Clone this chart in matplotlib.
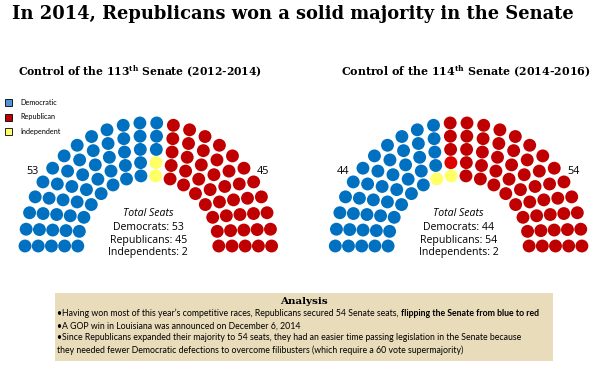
import numpy as np
import matplotlib
matplotlib.use("Agg")
import matplotlib.pyplot as plt
from matplotlib.patches import Rectangle

# =========================
# DATA
# =========================
# seats in each ring of the hemicycle, inner -> outer
ring_seats = [16, 18, 20, 22, 24]

# party of each seat, as runs in left-to-right seat order
runs_113 = [("D", 53), ("I", 2), ("R", 45)]
runs_114 = [("D", 40), ("I", 1), ("D", 4), ("I", 1), ("Rnew", 1), ("R", 53)]

dem_113, rep_113, ind_113 = 53, 45, 2
dem_114, rep_114, ind_114 = 44, 54, 2

titles = ["Control of the 113$^{\\mathrm{th}}$ Senate (2012-2014)",
          "Control of the 114$^{\\mathrm{th}}$ Senate (2014-2016)"]

legend_labels = ["Democratic", "Republican", "Independent"]
legend_colors = ["#4F94D9", "#C00000", "#FFFF66"]

notes = [
    ("\u2022Having won most of this year\u2019s competitive races, Republicans secured 54 Senate seats, ",
     "flipping the Senate from blue to red"),
    ("\u2022A GOP win in Louisiana was announced on December 6, 2014", ""),
    ("\u2022Since Republicans expanded their majority to 54 seats, they had an easier time passing legislation in the Senate because", ""),
    ("they needed fewer Democratic defections to overcome filibusters (which require a 60 vote supermajority)", ""),
]

colors = {"D": "#0070C0", "R": "#C00000", "I": "#FFFF66", "Rnew": "#E00000"}

plt.rcParams["mathtext.fontset"] = "custom"
plt.rcParams["mathtext.rm"] = "DejaVu Serif:bold"

fig = plt.figure(figsize=(6.07, 3.91), dpi=100)
ax = fig.add_axes([0, 0, 1, 1])
ax.set_xlim(0, 607)
ax.set_ylim(391, 0)
ax.axis("off")
fig.canvas.draw()
renderer = fig.canvas.get_renderer()


def fit(t, width):
    # shrink/grow a text so it spans the given pixel width
    w = t.get_window_extent(renderer).width
    t.set_fontsize(t.get_fontsize() * width / w)


def seat_layout(cx, cy, r_in=70.5, step=13.2):
    pts = []
    for k, n in enumerate(ring_seats):
        r = r_in + k * step
        for a in np.linspace(np.pi, 0, n):
            pts.append((a, k, cx + r * np.cos(a), cy - r * np.sin(a)))
    pts.sort(key=lambda p: (-p[0], p[1]))
    return np.array([p[2] for p in pts]), np.array([p[3] for p in pts])


def hemicycle(cx, cy, runs, dem, rep, ind):
    xs, ys = seat_layout(cx, cy)
    party = []
    for p, n in runs:
        party += [p] * n
    ax.scatter(xs, ys, s=86, c=[colors[p] for p in party], linewidths=0, zorder=3)
    ax.text(cx - 116, 171, str(dem), fontsize=7.8, family="Open Sans",
            ha="center", va="center")
    ax.text(cx + 115, 171, str(rep), fontsize=7.8, family="Open Sans",
            ha="center", va="center")
    ax.text(cx, 214, "Total Seats", fontsize=7.6, family="Open Sans",
            style="italic", ha="center", va="center")
    lines = [f"Democrats: {dem}", f"Republicans: {rep}", f"Independents: {ind}"]
    for i, s in enumerate(lines):
        ax.text(cx, 227 + i * 13, s, fontsize=7.6, family="Open Sans",
                ha="center", va="center")


# =========================
# TITLE + SUBTITLES
# =========================
t = ax.text(12, 14, "In 2014, Republicans won a solid majority in the Senate",
            fontsize=13, family="DejaVu Serif", weight="bold", va="center")
fit(t, 560)

t = ax.text(140, 71, titles[0], fontsize=9, family="DejaVu Serif",
            weight="bold", ha="center", va="center")
fit(t, 244)
t = ax.text(466, 71, titles[1], fontsize=9, family="DejaVu Serif",
            weight="bold", ha="center", va="center")
fit(t, 248)

# =========================
# LEGEND
# =========================
for i, (lab, col) in enumerate(zip(legend_labels, legend_colors)):
    y = 102.5 + i * 14.5
    ax.add_patch(Rectangle((5, y - 3.5), 7, 7, facecolor=col,
                           edgecolor="black", linewidth=0.6))
    ax.text(20, y, lab, fontsize=5.2, family="Lato", va="center")

# =========================
# HEMICYCLES
# =========================
hemicycle(148.3, 246, runs_113, dem_113, rep_113, ind_113)
hemicycle(458.6, 246, runs_114, dem_114, rep_114, ind_114)

# =========================
# ANALYSIS BOX
# =========================
ax.add_patch(Rectangle((55, 293), 498, 68, facecolor="#E9DCBB",
                       edgecolor="none", zorder=0))
ax.text(304, 302, "Analysis", fontsize=7.5, family="DejaVu Serif",
        weight="bold", ha="center", va="center")
for i, (plain, bold) in enumerate(notes):
    y = 313.5 + i * 12.2
    t1 = ax.text(57, y, plain, fontsize=6.3, family="Lato", va="center")
    if bold:
        bb = t1.get_window_extent(renderer)
        x_end = ax.transData.inverted().transform((bb.x1, 0))[0]
        ax.text(x_end, y, bold, fontsize=6.3, family="Lato",
                weight="bold", va="center")

fig.savefig("out.png", dpi=100)
